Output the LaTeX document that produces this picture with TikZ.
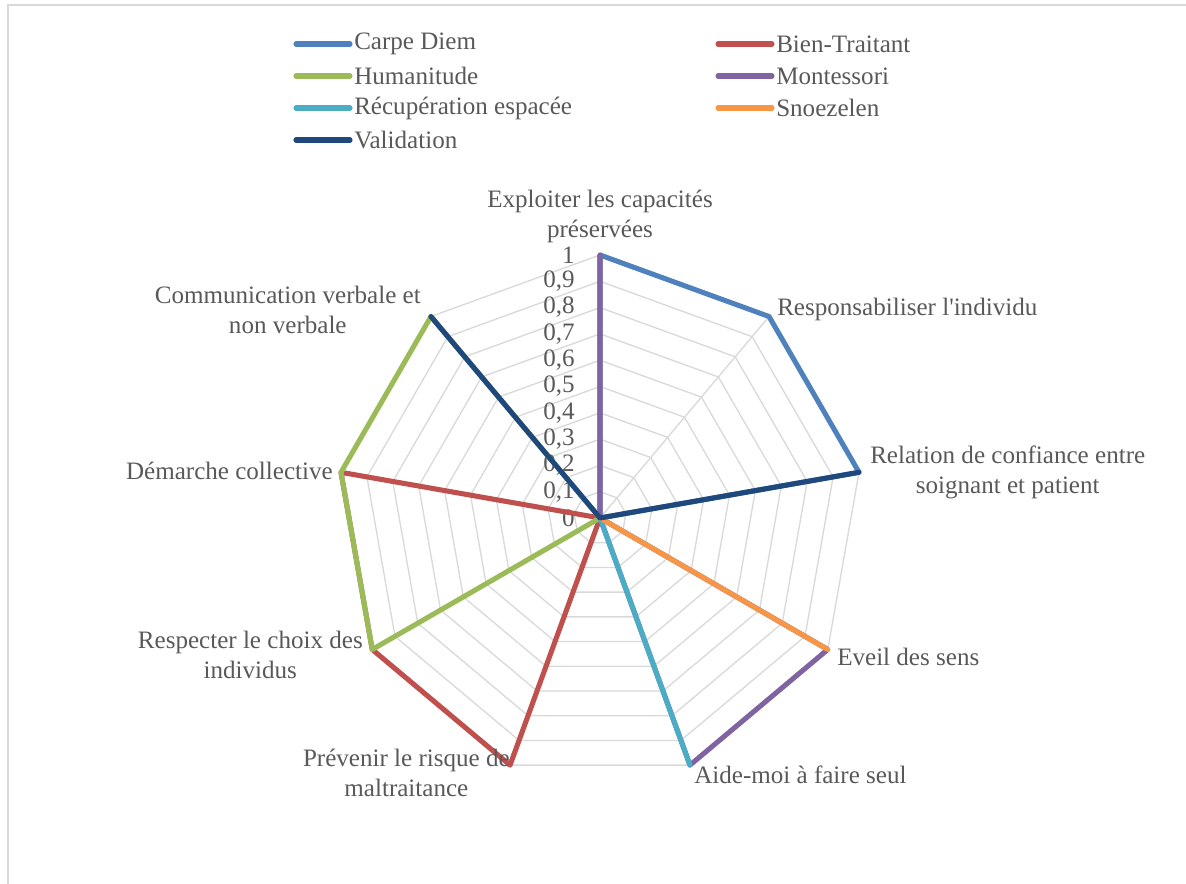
\documentclass[tikz,border=0pt]{standalone}
\usepackage{fontspec}
\setmainfont{Liberation Serif}[Ligatures=TeXOff]
\usetikzlibrary{calc}

\definecolor{txtgray}{HTML}{595959}
\definecolor{gridgray}{HTML}{D9D9D9}
\definecolor{cdiem}{HTML}{4F81BD}
\definecolor{btrait}{HTML}{C0504D}
\definecolor{human}{HTML}{9BBB59}
\definecolor{montes}{HTML}{8064A2}
\definecolor{recup}{HTML}{4BACC6}
\definecolor{snoez}{HTML}{F79646}
\definecolor{valid}{HTML}{1F497D}

\tikzset{
  lbl/.style={inner sep=0pt,text=txtgray,font=\fontsize{18.8}{22.5}\selectfont},
  serie/.style={line width=3.8pt,line join=round,line cap=round},
  gridline/.style={gridgray,line width=1pt}
}

\begin{document}
\begin{tikzpicture}[x=0.75pt,y=0.75pt]
   \useasboundingbox (0,0) rectangle (1186,884);
   \draw[gridgray,line width=1.5pt] (8,0) -- (8,879) -- (1186,879);

   % axes
   \coordinate (c) at (600,366);
   \foreach \i in {0,...,8}
     \coordinate (p\i) at ($(c)+({90-40*\i}:263)$);

   % grid
   \foreach \r in {1,...,10}
     \draw[gridline] ($(c)+(90:26.3*\r)$)
       \foreach \i in {1,...,8} { -- ($(c)+({90-40*\i}:26.3*\r)$) } -- cycle;
   \foreach \i in {0,...,8}
     \draw[gridline] (c) -- (p\i);

   % scale
   \node[lbl,anchor=east] (t0) at (575,366) {0};
   \foreach \v/\t in {1/{0,1},2/{0,2},3/{0,3},4/{0,4},5/{0,5},6/{0,6},7/{0,7},8/{0,8},9/{0,9}}
     \node[lbl,anchor=east] (t\v) at (575,{366+26.3*\v}) {\t};
   \node[lbl,anchor=east] (t10) at (575,629) {1};

   % series
   \draw[serie,cdiem] (p0) -- (p1) -- (p2) -- (c) -- cycle;
   \draw[serie,btrait] (c) -- (p5) -- (p6) -- (p7) -- cycle;
   \draw[serie,human] (c) -- (p6) -- (p7) -- (p8) -- cycle;
   \draw[serie,montes] (c) -- (p0) (c) -- (p3) -- (p4) -- cycle;
   \draw[serie,recup] (c) -- (p4);
   \draw[serie,snoez] (c) -- (p3);
   \draw[serie,valid] (p8) -- (c) -- (p2);

   % axis labels
   \node[lbl,align=center,anchor=south] (l0) at (600,641) {Exploiter les capacités\\préservées};
   \node[lbl,anchor=west] (l1) at (777,575) {Responsabiliser l'individu};
   \node[lbl,align=center,anchor=west] (l2) at (870,412) {Relation de confiance entre\\soignant et patient};
   \node[lbl,anchor=west] (l3) at (837,227) {Eveil des sens};
   \node[lbl,anchor=west] (l4) at (694,109) {Aide-moi à faire seul};
   \node[lbl,align=center,anchor=north east] (l5) at (510,135) {Prévenir le risque de\\maltraitance};
   \node[lbl,align=center,anchor=east] (l6) at (363,229) {Respecter le choix des\\individus};
   \node[lbl,anchor=east] (l7) at (333,413) {Démarche collective};
   \node[lbl,align=center,anchor=east] (l8) at (421,574) {Communication verbale et\\non verbale};

   % legend
   \draw[serie,cdiem] (296,840) -- (350,840);
   \node[lbl,anchor=west] (k1) at (354,840) {Carpe Diem};
   \draw[serie,btrait] (718,840) -- (772,840);
   \node[lbl,anchor=west] (k2) at (776,840) {Bien-Traitant};
   \draw[serie,human] (296,808) -- (350,808);
   \node[lbl,anchor=west] (k3) at (354,808) {Humanitude};
   \draw[serie,montes] (718,808) -- (772,808);
   \node[lbl,anchor=west] (k4) at (776,808) {Montessori};
   \draw[serie,recup] (296,776) -- (350,776);
   \node[lbl,anchor=west] (k5) at (354,776) {Récupération espacée};
   \draw[serie,snoez] (718,776) -- (772,776);
   \node[lbl,anchor=west] (k6) at (776,776) {Snoezelen};
   \draw[serie,valid] (296,744) -- (350,744);
   \node[lbl,anchor=west] (k7) at (354,744) {Validation};
\end{tikzpicture}
\end{document}
